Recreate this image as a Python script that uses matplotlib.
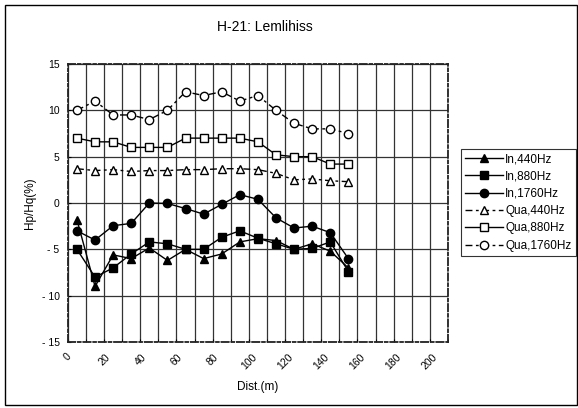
import numpy as np
import matplotlib
matplotlib.use("Agg")
import matplotlib.pyplot as plt
from matplotlib.patches import Rectangle

plt.rcParams['font.family'] = ['Liberation Sans', 'DejaVu Sans']

# --- data ---
dist = [5, 15, 25, 35, 45, 55, 65, 75, 85, 95, 105, 115, 125, 135, 145, 155]

in_440 = [-1.8, -9.0, -5.6, -6.0, -4.85, -6.2, -5.0, -6.0,
          -5.5, -4.2, -3.85, -4.05, -5.0, -4.4, -5.2, -7.0]
in_880 = [-5.0, -8.0, -7.0, -5.5, -4.2, -4.4, -5.0, -5.0,
          -3.7, -3.0, -3.8, -4.4, -5.0, -4.9, -4.2, -7.4]
in_1760 = [-3.0, -4.0, -2.45, -2.2, 0.0, -0.05, -0.6, -1.2,
           -0.15, 0.9, 0.4, -1.6, -2.7, -2.5, -3.2, -6.0]
qua_440 = [3.7, 3.5, 3.6, 3.4, 3.5, 3.5, 3.6, 3.6,
           3.7, 3.7, 3.6, 3.2, 2.5, 2.6, 2.4, 2.3]
qua_880 = [7.0, 6.6, 6.6, 6.0, 6.0, 6.0, 7.0, 7.0,
           7.0, 7.0, 6.6, 5.2, 5.0, 5.0, 4.2, 4.2]
qua_1760 = [10.0, 11.0, 9.5, 9.5, 9.0, 10.0, 12.0, 11.6,
            12.0, 11.0, 11.6, 10.0, 8.6, 8.0, 8.0, 7.5]

x_ticks = list(range(0, 201, 20))
y_ticks = [15, 10, 5, 0, -5, -10, -15]

fig = plt.figure(figsize=(5.78, 4.08), dpi=100)
# outer frame of the chart
fig.patches.append(Rectangle((5 / 578, 3 / 408), 572 / 578, 400 / 408,
                             transform=fig.transFigure, fill=False,
                             edgecolor='black', linewidth=1.0))

ax = fig.add_axes([67.9 / 578, 66 / 408, 380 / 578, 278 / 408])

dash = (0, (5, 2.5, 2, 2.5))
ms = 5.5
ax.plot(dist, in_440, '-', color='black', lw=1, marker='^', ms=ms + 0.5,
        mfc='black', label='In,440Hz')
ax.plot(dist, in_880, '-', color='black', lw=1, marker='s', ms=ms,
        mfc='black', label='In,880Hz')
ax.plot(dist, in_1760, '-', color='black', lw=1, marker='o', ms=ms + 0.5,
        mfc='black', label='In,1760Hz')
ax.plot(dist, qua_440, linestyle=dash, color='black', lw=1, marker='^',
        ms=ms + 0.5, mfc='white', label='Qua,440Hz')
ax.plot(dist, qua_880, '-', color='black', lw=1, marker='s', ms=ms,
        mfc='white', label='Qua,880Hz')
ax.plot(dist, qua_1760, linestyle=dash, color='black', lw=1, marker='o',
        ms=ms + 0.5, mfc='white', label='Qua,1760Hz')

ax.set_xlim(0, 210)
ax.set_ylim(-15, 15)
ax.set_xticks(np.arange(0, 211, 10), minor=True)
ax.set_xticks(x_ticks)
ax.set_xticklabels([str(t) for t in x_ticks], rotation=45, ha='center',
                   fontsize=7.5)
ax.set_yticks(y_ticks)
ax.set_yticklabels([str(t).replace('-', '- ') for t in y_ticks], fontsize=7.5)
ax.tick_params(axis='both', which='both', length=2, direction='in')
ax.tick_params(axis='x', pad=7)
ax.tick_params(axis='y', pad=6)

ax.grid(True, which='both', axis='x', color='#333333', lw=0.9)
ax.grid(True, which='major', axis='y', color='#333333', lw=0.9)
ax.set_axisbelow(True)
for sp in ax.spines.values():
    sp.set_linestyle((0, (4, 1.5, 1.5, 1.5)))
    sp.set_color('#222222')
    sp.set_linewidth(1.3)

ax.set_xlabel('Dist.(m)', fontsize=8.5, labelpad=7)
ax.set_ylabel('Hp/Hq(%)', fontsize=8.5, labelpad=4)
fig.text(265 / 578, 1 - 27 / 408, 'H-21: Lemlihiss', ha='center',
         va='center', fontsize=10)

leg = fig.legend(loc='upper left', bbox_to_anchor=(461 / 578, 1 - 149 / 408),
                 frameon=True, fancybox=False, fontsize=8.5,
                 handlelength=3.2, handletextpad=0.2, labelspacing=0.45,
                 borderpad=0.35, borderaxespad=0)
leg.get_frame().set_edgecolor('black')
leg.get_frame().set_linewidth(0.8)

fig.savefig('out.png', dpi=100)
